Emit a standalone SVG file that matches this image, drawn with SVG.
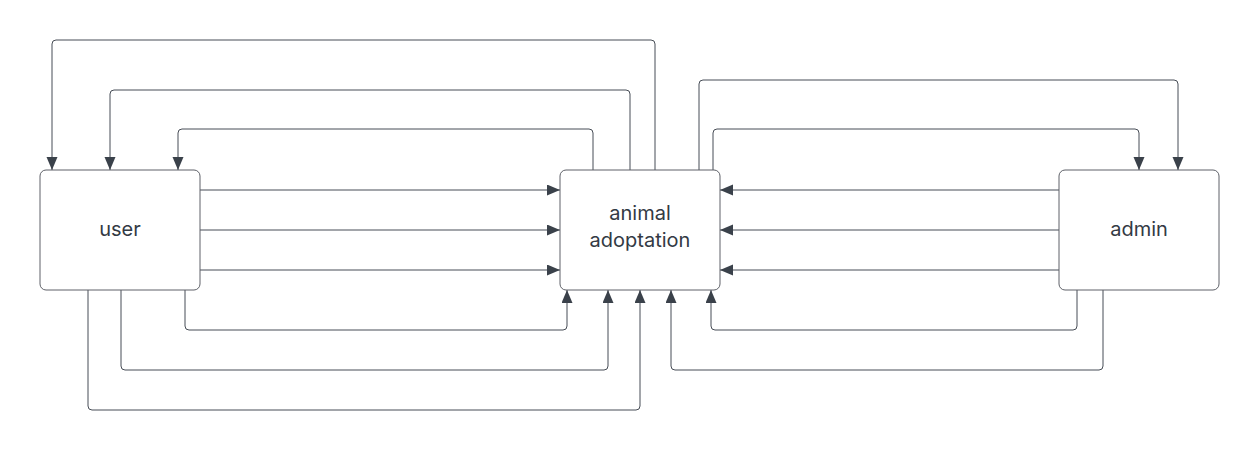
<svg xmlns="http://www.w3.org/2000/svg" width="1260" height="450" viewBox="0 0 1260 450">
<style>
.box{fill:#ffffff;stroke:#5e6168;stroke-width:1}
.lbl{font-family:Inter,"Liberation Sans",sans-serif;font-size:20px;fill:#333a44;text-anchor:middle}
.conn{fill:none;stroke:#474d56;stroke-width:1}
</style>
<defs>
<marker id="arr" markerUnits="userSpaceOnUse" markerWidth="14" markerHeight="12" refX="13" refY="5.5" orient="auto">
<path d="M0,0 L13,5.5 L0,11 z" fill="#3a414a"/>
</marker>
</defs>
<rect width="1260" height="450" fill="#ffffff"/>
<g id="connectors">
<path class="conn" marker-end="url(#arr)" d="M655,170 V44 Q655,40 651,40 H56 Q52,40 52,44 V170"/>
<path class="conn" marker-end="url(#arr)" d="M630,170 V94 Q630,90 626,90 H114 Q110,90 110,94 V170"/>
<path class="conn" marker-end="url(#arr)" d="M593,170 V133 Q593,129 589,129 H182 Q178,129 178,133 V170"/>
<path class="conn" marker-end="url(#arr)" d="M699,170 V84 Q699,80 703,80 H1174 Q1178,80 1178,84 V170"/>
<path class="conn" marker-end="url(#arr)" d="M713,170 V133 Q713,129 717,129 H1135 Q1139,129 1139,133 V170"/>
<path class="conn" marker-end="url(#arr)" d="M200,190 H560"/>
<path class="conn" marker-end="url(#arr)" d="M200,230 H560"/>
<path class="conn" marker-end="url(#arr)" d="M200,270 H560"/>
<path class="conn" marker-end="url(#arr)" d="M1059,190 H720"/>
<path class="conn" marker-end="url(#arr)" d="M1059,230 H720"/>
<path class="conn" marker-end="url(#arr)" d="M1059,270 H720"/>
<path class="conn" marker-end="url(#arr)" d="M185,290 V326 Q185,330 189,330 H563 Q567,330 567,326 V290"/>
<path class="conn" marker-end="url(#arr)" d="M121,290 V366 Q121,370 125,370 H604 Q608,370 608,366 V290"/>
<path class="conn" marker-end="url(#arr)" d="M88,290 V406 Q88,410 92,410 H636 Q640,410 640,406 V290"/>
<path class="conn" marker-end="url(#arr)" d="M1077,290 V326 Q1077,330 1073,330 H715 Q711,330 711,326 V290"/>
<path class="conn" marker-end="url(#arr)" d="M1103,290 V366 Q1103,370 1099,370 H675 Q671,370 671,366 V290"/>
</g>
<g id="user">
<rect class="box" x="40" y="170" width="160" height="120" rx="6"/>
<text class="lbl" x="120" y="236">user</text>
</g>
<g id="animal-adoptation">
<rect class="box" x="560" y="170" width="160" height="120" rx="6"/>
<text class="lbl" x="640" y="220">animal</text>
<text class="lbl" x="640" y="247">adoptation</text>
</g>
<g id="admin">
<rect class="box" x="1059" y="170" width="160" height="120" rx="6"/>
<text class="lbl" x="1139" y="236">admin</text>
</g>
</svg>
